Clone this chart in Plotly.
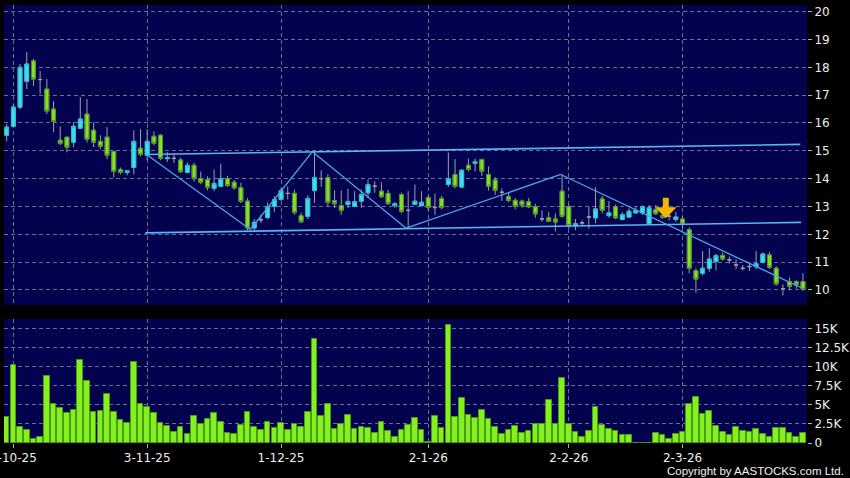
import plotly.graph_objects as go

# ---------------- data ----------------
opens = [15.56,15.88,16.57,17.50,18.23,17.56,17.22,16.50,15.38,15.49,
         15.31,15.81,16.32,15.74,15.34,15.49,14.98,14.33,14.22,14.40,
         15.09,14.84,15.52,15.56,14.72,14.73,14.67,14.22,14.48,14.00,
         13.97,13.65,13.72,14.00,13.87,13.68,13.19,12.23,12.52,12.60,
         13.00,13.25,13.47,13.47,12.67,12.64,13.57,14.00,14.04,13.21,
         13.03,13.07,13.00,13.19,13.49,13.73,13.55,13.47,13.03,13.43,
         12.86,13.07,13.03,13.32,12.96,13.29,13.79,14.15,13.70,14.48,
         14.55,14.69,14.15,13.95,13.51,13.35,13.22,13.19,13.17,12.99,
         12.55,12.59,12.55,13.55,12.99,12.31,12.41,12.62,12.59,13.27,
         12.67,12.99,12.53,12.62,12.77,12.77,12.38,12.89,12.67,12.65,
         12.53,12.55,12.17,10.70,10.60,10.78,11.02,11.24,11.08,10.90,
         10.78,10.84,10.84,10.99,11.26,10.78,10.05,10.30,10.30,10.30]
highs = [15.96,16.68,18.12,18.55,18.30,17.87,17.58,16.79,15.88,15.50,
         16.03,16.93,16.86,16.03,15.56,15.85,14.98,14.40,14.30,15.74,
         15.78,15.78,15.70,15.60,14.95,14.90,14.75,14.58,14.58,14.25,
         14.08,14.33,14.54,14.10,13.95,13.85,13.30,12.55,12.70,13.15,
         13.37,13.66,13.72,13.60,12.78,13.40,14.96,14.30,14.16,13.58,
         13.58,13.64,13.55,13.61,13.97,13.91,13.87,13.60,13.15,13.50,
         13.55,13.79,13.55,13.40,13.47,13.38,14.94,14.70,14.35,14.72,
         14.72,14.72,14.44,14.05,13.65,13.50,13.30,13.25,13.30,13.10,
         12.86,12.80,12.75,14.15,13.07,12.55,12.50,12.98,13.69,13.37,
         13.20,13.07,12.80,12.93,12.97,13.04,13.05,13.05,12.80,12.75,
         12.80,12.65,12.25,10.78,11.40,11.50,11.30,11.35,11.20,11.10,
         10.90,10.95,11.40,11.35,11.37,10.85,10.20,10.45,10.35,10.60]
lows =  [15.34,15.85,16.50,17.22,17.33,17.04,16.32,15.67,15.20,14.95,
         15.13,15.78,15.30,15.13,15.05,14.70,14.04,14.15,14.12,14.15,
         14.80,14.66,15.20,14.66,14.60,14.56,14.20,14.20,13.90,13.80,
         13.58,13.55,13.70,13.70,13.60,13.12,12.14,12.10,12.40,12.55,
         12.80,13.20,13.25,12.70,12.40,12.55,13.14,13.70,13.00,12.95,
         12.70,12.95,12.99,12.95,13.30,13.49,13.31,13.05,12.95,12.75,
         12.24,13.07,13.00,12.85,12.70,12.90,13.70,13.65,13.65,14.26,
         14.26,14.10,13.57,13.42,13.20,13.15,12.90,12.95,12.95,12.60,
         12.45,12.44,12.10,12.60,12.20,12.15,12.30,12.20,12.40,12.75,
         12.60,12.55,12.50,12.58,12.74,12.70,12.35,12.70,12.55,12.50,
         12.45,12.20,10.60,9.90,10.52,10.65,10.70,11.05,10.95,10.75,
         10.70,10.68,10.75,10.95,10.75,10.15,9.80,10.00,10.05,9.97]
closes = [15.85,16.57,18.00,18.12,17.58,17.56,16.43,16.06,15.27,15.13,
          15.88,16.14,15.42,15.31,15.16,14.84,14.26,14.22,14.28,15.34,
          14.87,15.34,15.27,14.73,14.76,14.73,14.25,14.48,14.00,13.86,
          13.68,13.83,14.00,13.75,13.67,13.18,12.23,12.43,12.52,13.00,
          13.25,13.57,13.47,12.78,12.45,13.29,14.04,14.00,13.14,13.10,
          12.86,13.18,13.18,13.43,13.79,13.73,13.35,13.10,13.10,12.83,
          12.86,13.19,13.15,12.96,12.96,12.96,14.00,13.72,14.30,14.33,
          14.60,14.27,13.73,13.58,13.51,13.22,13.00,13.04,12.99,12.73,
          12.55,12.47,12.44,12.65,12.31,12.38,12.41,12.62,12.91,12.86,
          12.77,12.59,12.71,12.83,12.86,12.99,12.95,12.74,12.61,12.65,
          12.62,12.37,10.78,10.39,10.78,11.11,11.23,11.11,11.08,10.90,
          10.78,10.84,10.94,11.29,10.82,10.22,10.05,10.12,10.18,10.03]
volumes_k = [3.41,10.3,2.10,1.75,0.52,0.83,8.83,5.10,4.63,3.93,
             4.37,10.93,8.20,4.10,4.24,6.43,4.10,2.97,2.66,10.63,
             5.07,4.77,3.93,2.62,2.23,1.48,2.05,1.22,3.58,2.49,
             3.10,3.93,2.80,1.31,1.22,2.31,4.02,2.05,1.75,2.71,
             1.92,2.58,1.75,2.53,2.05,4.07,13.69,3.49,5.16,1.88,
             2.49,3.67,1.84,2.14,1.92,1.35,2.80,1.53,0.74,1.70,
             2.36,3.32,1.66,0.13,3.54,2.01,15.52,3.45,5.94,3.71,
             3.23,4.37,3.19,2.05,1.13,1.75,2.18,1.35,1.61,2.49,
             2.44,5.72,2.44,8.53,2.49,1.48,0.83,1.57,4.67,2.36,
             1.88,1.61,1.00,1.05,0.02,0.02,0.04,1.31,1.00,0.56,
             1.13,1.48,5.12,6.08,3.80,4.24,2.18,1.48,1.09,2.14,
             1.61,1.40,1.84,1.22,0.74,2.01,1.97,1.35,0.74,1.31]

tick_index = [1, 21, 41, 63, 84, 101]
tick_labels = ["2-10-25", "3-11-25", "1-12-25", "2-1-26", "2-2-26", "2-3-26"]
price_ticks = list(range(10, 21))
vol_ticks = [0, 2500, 5000, 7500, 10000, 12500, 15000]
vol_tick_labels = ["0", "2.5K", "5K", "7.5K", "10K", "12.5K", "15K"]

# drawn trend lines: (x index, price) pairs
upper_channel = [(20.9, 14.87), (118.6, 15.23)]
lower_channel = [(20.7, 12.05), (118.7, 12.43)]
zigzag = [(20.9, 14.87), (36.4, 12.17), (45.7, 14.97), (59.7, 12.22),
          (82.8, 14.15), (118.8, 10.07)]
arrow_point = (98.5, 12.58)

# ---------------- figure ----------------
n = len(closes)
xs = list(range(n))
volumes = [v * 1000 for v in volumes_k]

CYAN, CYAN_EDGE = "#3ae0ee", "#26bcd2"
GREEN, GREEN_EDGE = "#86e02a", "#4c9618"
GREY = "#a0a0ac"

# body-only series (no doji: those keep the grey body line of the wick trace)
b_open, b_close, b_hi, b_lo = [], [], [], []
for o, c in zip(opens, closes):
    if o == c:
        b_open.append(None); b_close.append(None); b_hi.append(None); b_lo.append(None)
    else:
        b_open.append(o); b_close.append(c); b_hi.append(max(o, c)); b_lo.append(min(o, c))

fig = go.Figure()
# wicks (grey)
fig.add_trace(go.Candlestick(
    x=xs, open=opens, high=highs, low=lows, close=closes,
    increasing=dict(line=dict(color=GREY, width=1), fillcolor=GREY),
    decreasing=dict(line=dict(color=GREY, width=1), fillcolor=GREY),
    whiskerwidth=0, xaxis="x", yaxis="y", showlegend=False, hoverinfo="skip",
))
# coloured bodies
fig.add_trace(go.Candlestick(
    x=xs, open=b_open, high=b_hi, low=b_lo, close=b_close,
    increasing=dict(line=dict(color=CYAN_EDGE, width=1), fillcolor=CYAN),
    decreasing=dict(line=dict(color=GREEN_EDGE, width=1), fillcolor=GREEN),
    whiskerwidth=0, xaxis="x", yaxis="y", showlegend=False,
))
fig.add_trace(go.Bar(
    x=xs, y=volumes, width=0.84,
    marker=dict(color="#84f020", line=dict(color="#4a9c12", width=1)),
    xaxis="x2", yaxis="y2", showlegend=False,
))

LINE = dict(color="#5cb4f0", width=1.6)
for seg in (upper_channel, lower_channel):
    fig.add_shape(type="line", xref="x", yref="y",
                  x0=seg[0][0], y0=seg[0][1], x1=seg[1][0], y1=seg[1][1], line=LINE)
for (xa, ya), (xb, yb) in zip(zigzag[:-1], zigzag[1:]):
    fig.add_shape(type="line", xref="x", yref="y",
                  x0=xa, y0=ya, x1=xb, y1=yb, line=dict(color="#4fa6e6", width=1.3))

fig.add_annotation(x=arrow_point[0], y=arrow_point[1], xref="x", yref="y",
                   ax=0, ay=-22, showarrow=True, arrowhead=1, arrowsize=0.6,
                   arrowwidth=6, arrowcolor="#f4b400", text="")

fig.add_annotation(text="Copyright by AASTOCKS.com Ltd.", xref="paper", yref="paper",
                   x=1.049, y=-0.064, xanchor="right", yanchor="middle", showarrow=False,
                   font=dict(family="Liberation Sans", size=11.5, color="#f0f0f0"))

GRID = dict(showgrid=True, gridcolor="#6c6c98", gridwidth=1, griddash="4px,3px")
XR = [-0.4, 119.6]
fig.update_layout(
    width=850, height=478,
    margin=dict(l=4, r=43, t=5, b=35, autoexpand=False),
    paper_bgcolor="#000000", plot_bgcolor="#02024f",
    bargap=0, boxgap=0.18,
    font=dict(family="DejaVu Sans", size=12, color="#eeeeee"),
    xaxis=dict(domain=[0, 1], range=XR, tickvals=tick_index, showticklabels=False,
               ticks="", zeroline=False, rangeslider=dict(visible=False),
               anchor="y", automargin=False, **GRID),
    yaxis=dict(domain=[0.3151, 1], range=[9.46, 20.24], side="right",
               tickvals=price_ticks, ticks="outside", ticklen=4, tickcolor="#b0b0b0",
               zeroline=False, anchor="x", automargin=False, **GRID),
    xaxis2=dict(domain=[0, 1], range=XR, tickvals=tick_index, ticktext=tick_labels,
                ticks="outside", ticklen=4, tickcolor="#b0b0b0", zeroline=False,
                ticklabeloverflow="allow", anchor="y2", matches="x",
                automargin=False, **GRID),
    yaxis2=dict(domain=[0, 0.2831], range=[0, 16310], side="right",
                tickvals=vol_ticks, ticktext=vol_tick_labels, ticks="outside",
                ticklen=4, tickcolor="#b0b0b0", zeroline=False, anchor="x2",
                automargin=False, **GRID),
)

fig.write_html(
    "out.html",
    config={"displayModeBar": False},
    post_script="document.body.style.margin='0';document.body.style.background='#000';",
)
